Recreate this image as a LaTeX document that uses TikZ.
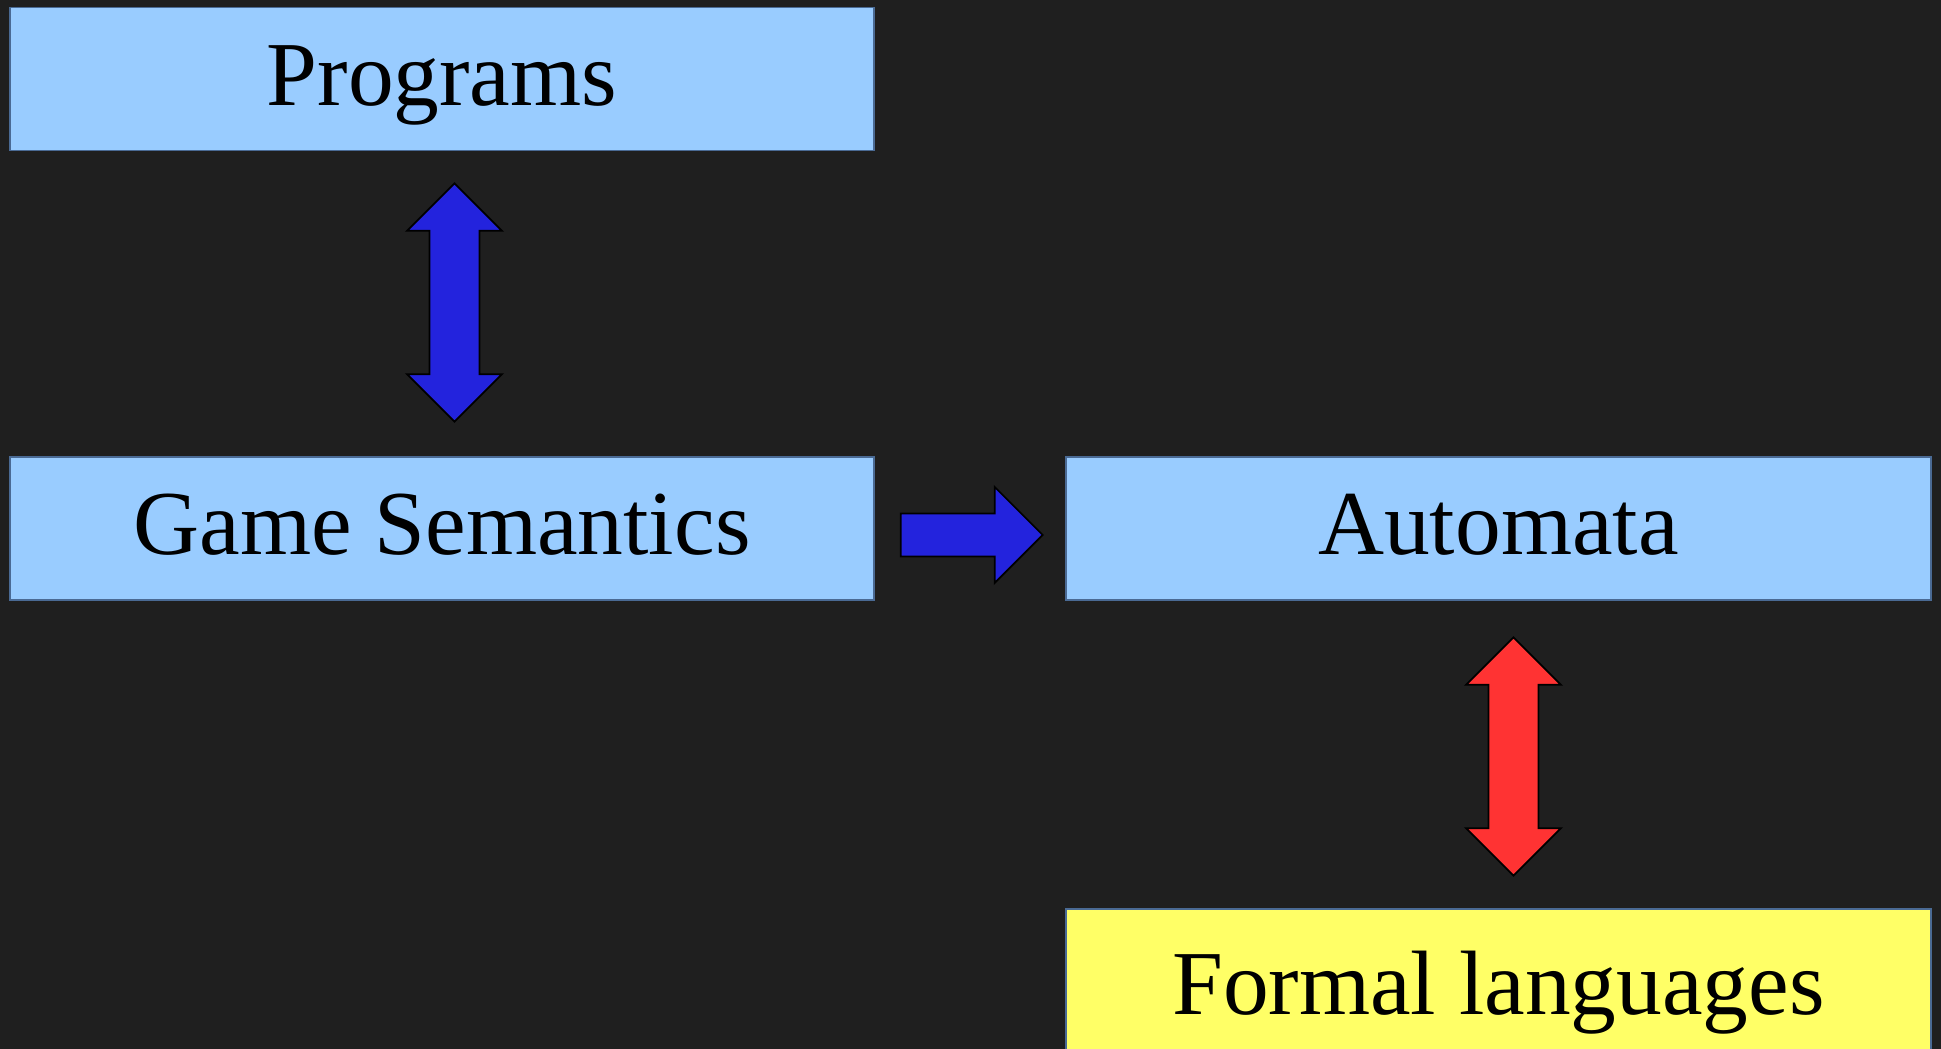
\documentclass[tikz,border=0pt]{standalone}
\usepackage{fontspec}
\setmainfont{Liberation Serif}
\usepackage{tikz}
\usetikzlibrary{shapes.arrows,positioning,calc}
\definecolor{Slate}{HTML}{1F1F1F}
\definecolor{SkyBox}{HTML}{99CCFF}
\definecolor{LemonBox}{HTML}{FFFF66}
\definecolor{DeepBlue}{HTML}{2323DD}
\definecolor{Coral}{HTML}{FF3333}
\definecolor{EdgeBlue}{HTML}{4A6A94}

\begin{document}
\begin{tikzpicture}[x=0.01cm, y=-0.01cm, font=\fontsize{26}{30}\selectfont]
\tikzset{box/.style={draw=EdgeBlue, line width=0.5pt, fill=SkyBox, minimum width=8.64cm, minimum height=1.43cm, inner sep=0pt, text height=0.73cm, text depth=0.21cm, text=black}, sky/.style={box}, lemon/.style={box, fill=LemonBox, minimum height=1.58cm}, twoway/.style={double arrow, draw=black, line width=0.5pt, inner sep=0pt, inner ysep=0.24cm, double arrow head extend=0.225cm, minimum height=2.38cm, rotate=90}, oneway/.style={single arrow, draw=black, fill=DeepBlue, line width=0.5pt, inner sep=0pt, inner ysep=0.205cm, single arrow head extend=0.265cm, minimum height=1.42cm}}
\fill[Slate] (0,0) rectangle (1941,1049);
\useasboundingbox (0,0) rectangle (1941,1049);
\node[sky] (prog) at (442,79) {Programs};
\node[sky] (game) at (442,528.5) {Game Semantics};
\node[sky] (auto) at (1498.5,528.5) {Automata};
\node[lemon] (lang) at (1498.5,988) {Formal languages};
\node[twoway, fill=DeepBlue] (pg) at (454.5,302.5) {};
\node[oneway] (ga) at (961,535) {};
\node[twoway, fill=Coral] (al) at (1513.5,756.5) {};
\end{tikzpicture}
\end{document}
